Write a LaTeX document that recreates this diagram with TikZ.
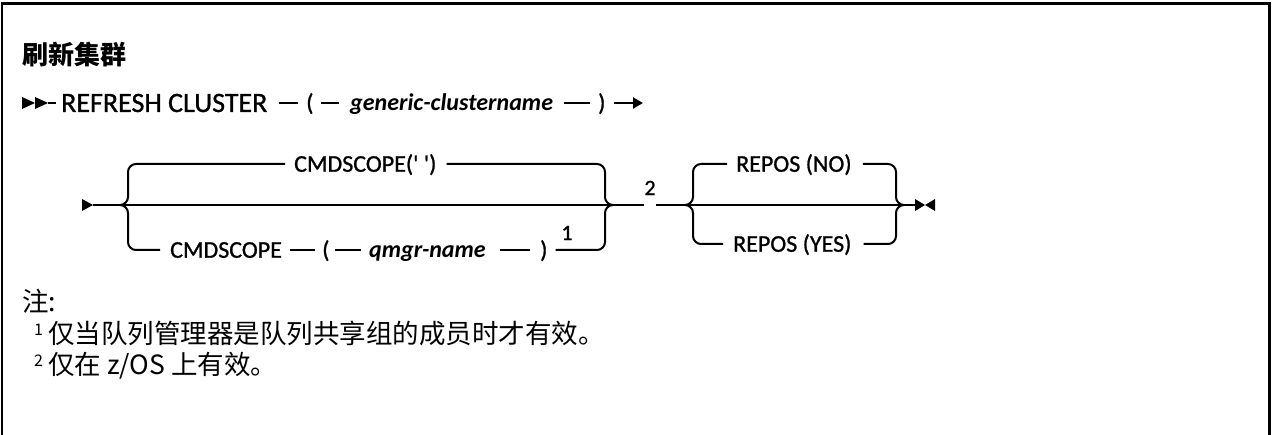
\documentclass[tikz,border=0pt]{standalone}
\usepackage{fontspec}
\setmainfont{Carlito}[Ligatures=TeXOff]
\newfontfamily\synf{Carlito}[Ligatures=TeXOff,FakeBold=1.0]
\newfontfamily\cjk{Noto Sans CJK SC}
\usetikzlibrary{arrows.meta,calc}
\begin{document}
\begin{tikzpicture}[x=1pt,y=-1pt,
  ln/.style={line width=2pt},
  brace/.style={line width=2pt, rounded corners=8pt},
  syn/.style={font=\synf\fontsize{24}{28}\selectfont, inner sep=0pt, text height=15.5pt, text depth=0pt, anchor=west},
  synbig/.style={syn, font=\synf\fontsize{28}{32}\selectfont, text height=18pt},
  var/.style={syn, font=\fontsize{24}{28}\selectfont\bfseries\itshape},
  supnum/.style={font=\synf\fontsize{22}{26}\selectfont, inner sep=0pt},
  note/.style={font=\cjk\fontsize{26.5}{31}\selectfont, inner sep=0pt, anchor=base west},
  notenum/.style={font=\cjk\fontsize{16}{18}\selectfont, inner sep=0pt, anchor=base west},
  title/.style={font=\cjk\bfseries\fontsize{26}{30}\selectfont, inner sep=0pt, anchor=base west}]
\useasboundingbox (0,0) rectangle (1272,435);
\draw[line width=2.5pt] (2,435) -- (2,3.5) -- (1269.5,3.5) -- (1269.5,435);

% title
\node[title] (title) at (22,65) {刷新集群};

% line 1
\coordinate (s1) at (22,103);
\coordinate (s1t) at (48,103);
\fill (s1) ++(0,-6) -- ++(13,6) -- ++(-13,6) -- cycle;
\fill (s1) ++(13,-6) -- ++(13,6) -- ++(-13,6) -- cycle;
\node[synbig] (rc) at (61,103) {REFRESH CLUSTER};
\draw[ln, shorten >=5pt] (s1t) -- (rc.west);
\node[syn] (lp1) at (306,103) {(};
\draw[ln, shorten <=11pt, shorten >=8pt] (rc.east) -- (lp1.west);
\node[var] (gen) at (350,103) {generic-clustername};
\draw[ln, shorten <=7pt, shorten >=11pt] (lp1.east) -- (gen.west);
\node[syn] (rp1) at (598,103) {)};
\draw[ln, shorten <=11pt, shorten >=8pt] (gen.east) -- (rp1.west);
\coordinate (e1) at (643,103);
\draw[ln, shorten <=8pt, -{Triangle[length=10pt,width=11pt]}] (rp1.east) -- (e1);

% line 2
\coordinate (s2) at (82,205);
\coordinate (s2t) at (93,205);
\coordinate (g1l) at (128,205);
\coordinate (g1r) at (605,205);
\coordinate (g2l) at (693,205);
\coordinate (g2r) at (896,205);
\coordinate (e2) at (915,205);
\fill (s2) ++(0,-6) -- ++(11,6) -- ++(-11,6) -- cycle;

% group 1 top
\node[syn] (t1) at (294,164) {CMDSCOPE(' ')};
\draw[brace] ($(g1l)+(-8,0)$) -| (t1.west -| g1l) -- ($(t1.west)+(-9,0)$);
\draw[brace] ($(t1.east)+(10,0)$) -| (g1r) -- ++(8,0);

% group 1 bottom
\node[syn] (b1) at (170,250) {CMDSCOPE};
\draw[brace] ($(g1l)+(-8,0)$) -| (b1.west -| g1l) -- ($(b1.west)+(-10,0)$);
\node[syn] (b1lp) at (322,250) {(};
\draw[ln, shorten <=8pt, shorten >=7pt] (b1.east) -- (b1lp.west);
\node[var] (qm) at (369,250) {qmgr-name};
\draw[ln, shorten <=5pt, shorten >=8pt] (b1lp.east) -- (qm.west);
\node[syn] (b1rp) at (540,250) {)};
\draw[ln, shorten <=14pt, shorten >=10pt] (qm.east) -- (b1rp.west);
\node[supnum] (f1) at (567,233) {1};
\draw[brace] ($(b1rp.east)+(8,0)$) -| (g1r) -- ++(8,0);

% main line
\node[supnum] (n2) at (650,188) {2};
\draw[ln] (s2t) -- (g1l) -- (g1r) -- (g1r -| n2.west);
\draw[ln] (g1r -| n2.east) -- (g2l) -- (g2r) -- (e2);

% group 2
\node[syn] (t2) at (736,164) {REPOS (NO)};
\draw[brace] ($(g2l)+(-8,0)$) -| (t2.west -| g2l) -- ($(t2.west)+(-9,0)$);
\draw[brace] ($(t2.east)+(11,0)$) -| (g2r) -- ++(8,0);
\node[syn] (b2) at (733,244) {REPOS (YES)};
\draw[brace] ($(g2l)+(-8,0)$) -| (b2.west -| g2l) -- ($(b2.west)+(-10,0)$);
\draw[brace] ($(b2.east)+(12,0)$) -| (g2r) -- ++(8,0);

% end marker
\fill (e2) ++(0,-6) -- ++(10,6) -- ++(-10,6) -- cycle;
\fill (e2) ++(20,-6) -- ++(-10,6) -- ++(10,6) -- cycle;

% notes
\node[note] (zhu) at (22,312) {注:};
\node[notenum] (nn1) at (34,336) {1};
\node[note] (nt1) at (48,344) {仅当队列管理器是队列共享组的成员时才有效。};
\node[notenum] (nn2) at (34,367) {2};
\node[note] (nt2) at (48,375) {仅在 z/OS 上有效。};
\end{tikzpicture}
\end{document}
